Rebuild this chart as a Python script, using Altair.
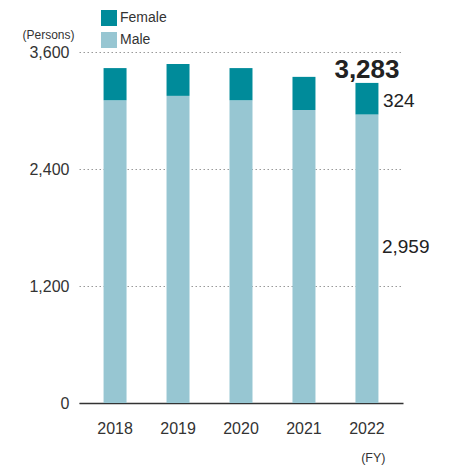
import altair as alt
import pandas as pd

years = ["2018", "2019", "2020", "2021", "2022"]
male = [3105, 3150, 3105, 3005, 2959]
female = [330, 327, 330, 340, 324]

rows = []
for y, m, f in zip(years, male, female):
    rows.append({"year": y, "gender": "Male", "value": m, "ord": 0})
    rows.append({"year": y, "gender": "Female", "value": f, "ord": 1})
df = pd.DataFrame(rows)

last = pd.DataFrame({
    "year": [years[-1]],
    "male": [male[-1]],
    "female": [female[-1]],
    "total": [male[-1] + female[-1]],
})
last["male_mid"] = last["male"] / 2
last["female_mid"] = last["male"] + last["female"] / 2

FONT = "Liberation Sans"
TXT = "#333333"

xenc = alt.X(
    "year:N",
    scale=alt.Scale(paddingInner=0.635, paddingOuter=0.39),
    axis=alt.Axis(
        title="(FY)", titleFontSize=12.5, titleFontWeight="normal", titleColor=TXT,
        titleFont=FONT, titleAngle=0, titleAlign="right", titleBaseline="middle",
        titleX=306, titleY=54, titleAnchor="start",
        labelAngle=0, labelFontSize=16, labelPadding=17, labelColor=TXT, labelFont=FONT,
        ticks=False, tickSize=0, domainColor="#333333", domainWidth=1.5, grid=False,
    ),
)

yscale = alt.Scale(domain=[0, 3600], nice=False)

bars = alt.Chart(df).mark_bar().encode(
    x=xenc,
    y=alt.Y(
        "value:Q",
        stack="zero",
        scale=yscale,
        axis=alt.Axis(
            values=[0, 1200, 2400, 3600], format=",.0f",
            title="(Persons)", titleFontSize=12, titleFontWeight="normal", titleColor=TXT,
            titleFont=FONT, titleAngle=0, titleAlign="right", titleBaseline="middle",
            titleX=-5, titleY=-18,
            labelFontSize=16, labelPadding=10, labelColor=TXT, labelFont=FONT,
            ticks=False, tickSize=0, domain=False,
            grid=True, gridColor="#999999", gridDash=[1.5, 2.5], gridWidth=1,
        ),
    ),
    color=alt.Color(
        "gender:N",
        scale=alt.Scale(domain=["Female", "Male"], range=["#008b9a", "#97c6d2"]),
        legend=alt.Legend(
            title=None, orient="none", legendX=22, legendY=-42, padding=0,
            symbolType="square", symbolSize=256, symbolStrokeWidth=0, symbolOpacity=1,
            labelFontSize=14, labelFont=FONT, labelColor=TXT, labelOffset=3,
            rowPadding=6,
        ),
    ),
    order=alt.Order("ord:Q"),
)

total_txt = alt.Chart(last).mark_text(
    font=FONT, fontSize=26, fontWeight="bold", color="#222222", dy=-5, baseline="alphabetic"
).encode(x="year:N", y=alt.Y("total:Q", scale=yscale), text=alt.Text("total:Q", format=",.0f"))

fem_txt = alt.Chart(last).mark_text(
    font=FONT, fontSize=19, color="#222222", align="left", baseline="middle", dx=16, dy=2
).encode(x="year:N", y=alt.Y("female_mid:Q", scale=yscale), text=alt.Text("female:Q", format=",.0f"))

male_txt = alt.Chart(last).mark_text(
    font=FONT, fontSize=19, color="#222222", align="left", baseline="middle", dx=15, dy=-12
).encode(x="year:N", y=alt.Y("male_mid:Q", scale=yscale), text=alt.Text("male:Q", format=",.0f"))

chart = alt.layer(bars, total_txt, fem_txt, male_txt).properties(
    width=324,
    height=351,
    autosize=alt.AutoSizeParams(type="none"),
    padding={"left": 71, "top": 44, "right": 40, "bottom": 62},
).configure_view(stroke=None)

chart.save("out.html", embed_options={"renderer": "svg", "actions": False})
